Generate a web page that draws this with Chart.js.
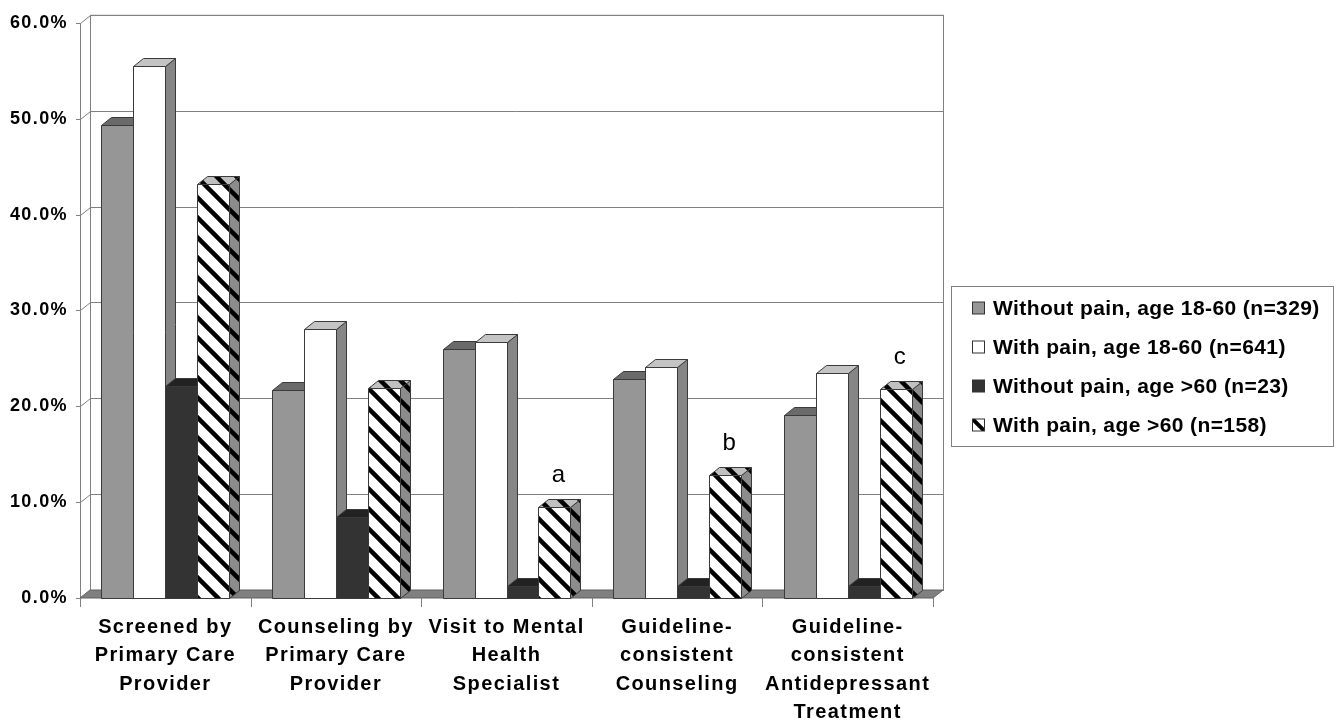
<!DOCTYPE html>
<html>
<head>
<meta charset="utf-8">
<script src="https://cdn.jsdelivr.net/npm/chart.js@4.4.0/dist/chart.umd.min.js"></script>
<style>
  html, body { margin: 0; padding: 0; background: #fff; }
  #wrap { width: 1344px; height: 727px; }
</style>
</head>
<body>
<div id="wrap"><canvas id="chart" width="1344" height="727"></canvas></div>
<script>
// Data
const categories = [
  ['Screened by', 'Primary Care', 'Provider'],
  ['Counseling by', 'Primary Care', 'Provider'],
  ['Visit to Mental', 'Health', 'Specialist'],
  ['Guideline-', 'consistent', 'Counseling'],
  ['Guideline-', 'consistent', 'Antidepressant', 'Treatment']
];
const seriesLabels = [
  'Without pain, age 18-60 (n=329)',
  'With pain, age 18-60 (n=641)',
  'Without pain, age >60 (n=23)',
  'With pain, age >60 (n=158)'
];
const withoutPainYoung = [49.3, 21.7, 26.0, 22.8, 19.1];
const withPainYoung = [55.5, 28.1, 26.7, 24.1, 23.5];
const withoutPainOld = [22.1, 8.5, 1.3, 1.3, 1.3];
const withPainOld = [43.2, 21.9, 9.5, 12.8, 21.8];
const notes = ['', '', 'a', 'b', 'c'];
const yTicks = [0, 10, 20, 30, 40, 50, 60];

// 3D depth offset (back plane relative to front plane)
const DX = 10, DY = -8;
const FONT = "'Liberation Sans', Arial, sans-serif";

const canvas = document.getElementById('chart');
const ctx = canvas.getContext('2d');

function makeHatch(bg) {
  const c = document.createElement('canvas');
  c.width = 20; c.height = 20;
  const g = c.getContext('2d');
  g.fillStyle = bg;
  g.fillRect(0, 0, 20, 20);
  g.strokeStyle = '#000';
  g.lineWidth = 4.5;
  for (const o of [-20, 0, 20]) {
    g.beginPath();
    g.moveTo(o - 3, -3);
    g.lineTo(o + 23, 23);
    g.stroke();
  }
  return ctx.createPattern(c, 'repeat');
}

function poly(c, pts, fill) {
  c.beginPath();
  c.moveTo(pts[0][0], pts[0][1]);
  for (let i = 1; i < pts.length; i++) c.lineTo(pts[i][0], pts[i][1]);
  c.closePath();
  c.fillStyle = fill;
  c.fill();
  c.stroke();
}

const threeD = {
  id: 'threeD',
  beforeDraw(chart) {
    chart.ctx.letterSpacing = '1.4px';
  },
  beforeDatasetsDraw(chart) {
    const { ctx: c, chartArea: a, scales: { x, y } } = chart;
    c.save();
    c.letterSpacing = '0px';
    c.lineWidth = 1;
    c.strokeStyle = '#808080';

    // back wall + side wall gridlines
    c.strokeRect(a.left + DX + 0.5, a.top + DY + 0.5, a.right - a.left, a.bottom - a.top);
    yTicks.forEach(v => {
      const py = Math.round(y.getPixelForValue(v)) + 0.5;
      c.beginPath();
      c.moveTo(a.left - 4, py);
      c.lineTo(a.left + 0.5, py);
      c.lineTo(a.left + DX + 0.5, py + DY);
      c.lineTo(a.right + DX, py + DY);
      c.stroke();
    });
    c.beginPath();
    c.moveTo(a.left + 0.5, Math.round(a.top));
    c.lineTo(a.left + 0.5, a.bottom);
    c.stroke();

    // floor
    c.strokeStyle = '#606060';
    poly(c, [[a.left, a.bottom], [a.right, a.bottom], [a.right + DX, a.bottom + DY], [a.left + DX, a.bottom + DY]], '#808080');

    // category ticks
    c.strokeStyle = '#808080';
    for (let i = 0; i <= categories.length; i++) {
      const px = Math.round(x.getPixelForValue(i - 0.5)) + 0.5;
      c.beginPath();
      c.moveTo(px, a.bottom);
      c.lineTo(px, a.bottom + 9);
      c.stroke();
    }

    // bars, drawn left to right so later faces cover earlier sides
    c.strokeStyle = '#3a3a3a';
    const metas = chart.data.datasets.map((d, i) => chart.getDatasetMeta(i));
    for (let k = 0; k < categories.length; k++) {
      metas.forEach((meta, di) => {
        const ds = chart.data.datasets[di];
        const p = meta.data[k].getProps(['x', 'y', 'base', 'width'], true);
        const l = Math.round(p.x - p.width / 2) + 0.5;
        const r = Math.round(p.x + p.width / 2) + 0.5;
        const t = Math.round(p.y) + 0.5;
        const b = Math.round(p.base) + 0.5;
        poly(c, [[r, t], [r + DX, t + DY], [r + DX, b + DY], [r, b]], ds.sideColor);
        poly(c, [[l, t], [r, t], [r + DX, t + DY], [l + DX, t + DY]], ds.topColor);
        poly(c, [[l, t], [r, t], [r, b], [l, b]], ds.backgroundColor);
      });
    }
    c.restore();
    return false;
  },
  afterDraw(chart) {
    const c = chart.ctx;
    c.save();

    // significance letters above the last series
    c.letterSpacing = '0px';
    c.font = '24px ' + FONT;
    c.fillStyle = '#000';
    c.textAlign = 'center';
    c.textBaseline = 'middle';
    const last = chart.getDatasetMeta(3);
    notes.forEach((n, k) => {
      if (!n) return;
      const el = last.data[k];
      c.fillText(n, el.x + 4, el.y - 32);
    });

    // legend
    const lx = 951, ly = 286, lw = 382, lh = 160;
    c.fillStyle = '#fff';
    c.fillRect(lx, ly, lw, lh);
    c.strokeStyle = '#808080';
    c.lineWidth = 1;
    c.strokeRect(lx + 0.5, ly + 0.5, lw, lh);
    c.font = 'bold 21px ' + FONT;
    c.letterSpacing = '0.4px';
    c.textAlign = 'left';
    const rows = [308, 347, 386, 425];
    const sx = 972.5, sz = 12;
    chart.data.datasets.forEach((ds, i) => {
      const sy = rows[i] - sz / 2;
      if (i === 3) {
        c.fillStyle = '#fff';
        c.fillRect(sx, sy, sz, sz);
        c.save();
        c.beginPath();
        c.rect(sx, sy, sz, sz);
        c.clip();
        c.strokeStyle = '#000';
        c.lineWidth = 4;
        c.beginPath();
        c.moveTo(sx - 1, sy - 1);
        c.lineTo(sx + sz + 1, sy + sz + 1);
        c.stroke();
        c.restore();
      } else {
        c.fillStyle = ds.backgroundColor;
        c.fillRect(sx, sy, sz, sz);
      }
      c.strokeStyle = '#333';
      c.lineWidth = 1;
      c.strokeRect(sx, sy, sz, sz);
      c.fillStyle = '#000';
      c.fillText(ds.label, 993, rows[i] + 1);
    });
    c.restore();
  }
};

const chart = new Chart(ctx, {
  type: 'bar',
  data: {
    labels: categories,
    datasets: [
      { label: seriesLabels[0], data: withoutPainYoung, backgroundColor: '#969696', topColor: '#6a6a6a', sideColor: '#5e5e5e' },
      { label: seriesLabels[1], data: withPainYoung, backgroundColor: '#ffffff', topColor: '#c4c4c4', sideColor: '#868686' },
      { label: seriesLabels[2], data: withoutPainOld, backgroundColor: '#333333', topColor: '#222222', sideColor: '#1c1c1c' },
      { label: seriesLabels[3], data: withPainOld, backgroundColor: makeHatch('#ffffff'), topColor: makeHatch('#c0c0c0'), sideColor: makeHatch('#8c8c8c') }
    ]
  },
  options: {
    responsive: false,
    animation: false,
    events: [],
    layout: { padding: { top: 17, right: 411, bottom: 0, left: 0 } },
    datasets: { bar: { categoryPercentage: 0.75, barPercentage: 1 } },
    plugins: {
      legend: { display: false },
      tooltip: { enabled: false }
    },
    scales: {
      x: {
        grid: { display: false, drawTicks: false },
        border: { display: false },
        ticks: {
          maxRotation: 0,
          autoSkip: false,
          padding: 15,
          color: '#000',
          font: { family: FONT, size: 20, weight: 'bold', lineHeight: 1.425 }
        },
        afterFit(scale) { scale.height = 129; }
      },
      y: {
        min: 0,
        max: 60,
        grid: { display: false, drawTicks: false },
        border: { display: false },
        ticks: {
          stepSize: 10,
          padding: 12,
          color: '#000',
          font: { family: FONT, size: 18, weight: 'bold' },
          callback: v => v.toFixed(1) + '%'
        },
        afterFit(scale) { scale.width = 80; }
      }
    }
  },
  plugins: [threeD]
});
</script>
</body>
</html>
